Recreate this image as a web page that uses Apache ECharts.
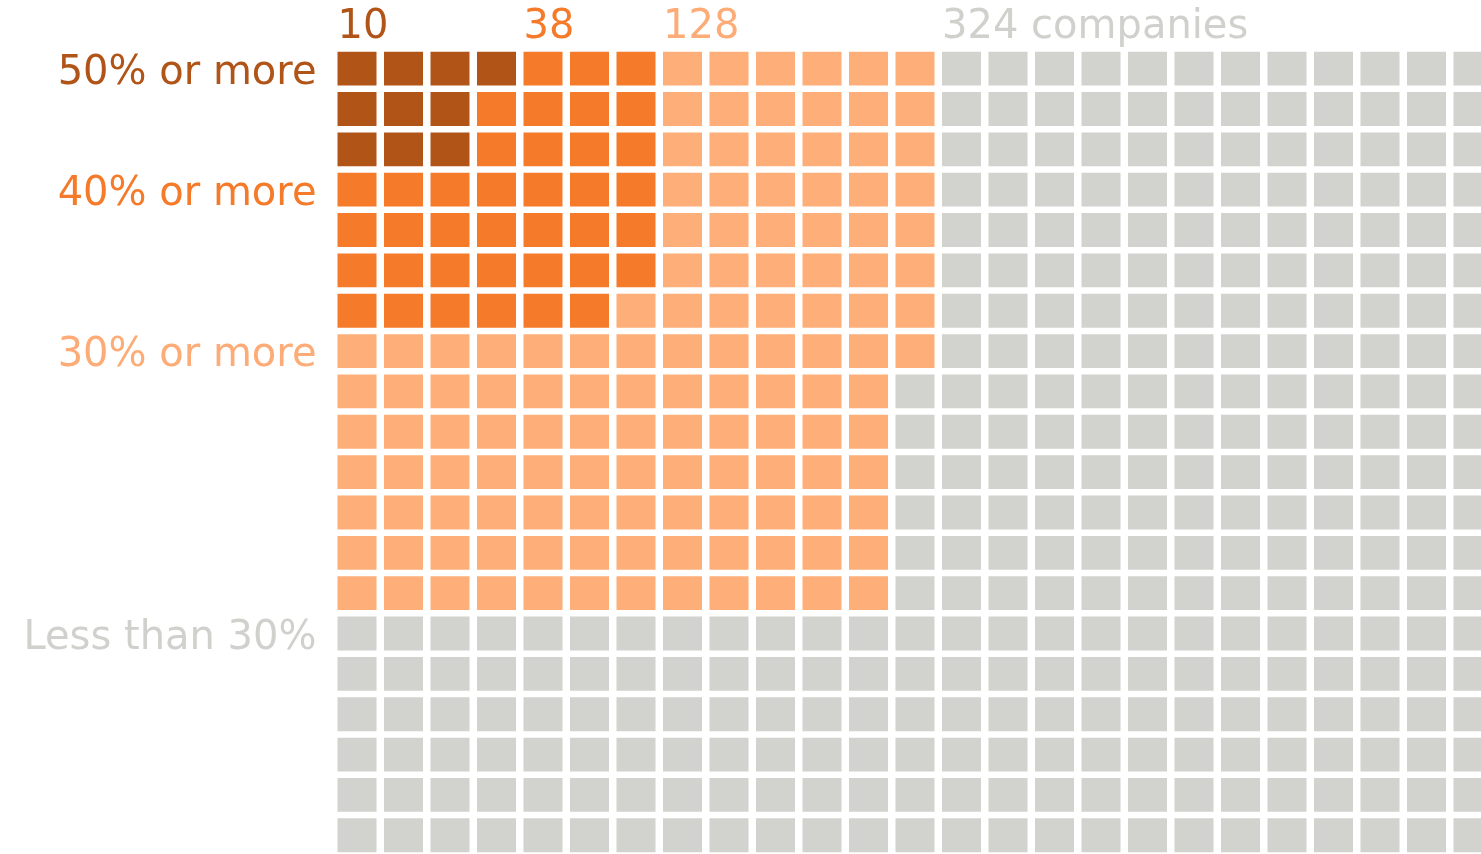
<!DOCTYPE html>
<html>
<head>
<meta charset="utf-8">
<script src="https://cdn.jsdelivr.net/npm/echarts@6/dist/echarts.min.js"></script>
<style>
  html, body { margin: 0; padding: 0; background: #fff; }
  #main { width: 1481px; height: 854px; }
</style>
</head>
<body>
<div id="main"></div>
<script>
// 公司分组（按占比）
var levels = ['50% or more', '40% or more', '30% or more', 'Less than 30%'];
// 每组公司数（非累计）
var counts = [10, 38, 128, 324];
// 每组嵌套块的列高（按列填充）
var blockHeights = [3, 7, 14, 20];
// 顶部数字
var topLabels = ['10', '38', '128', '324 companies'];
var colors = ['#b15418', '#f57a2a', '#feaf79', '#d2d2ce'];
var textColors = ['#b15418', '#f57a2a', '#fdac77', '#d0d0cc'];

var COLS = 25, ROWS = 20;

// 累计数
var cum = [];
counts.reduce(function (s, v, i) { cum[i] = s + v; return cum[i]; }, 0);

var cells = [];
for (var c = 0; c < COLS; c++) {
  for (var r = 0; r < ROWS; r++) {
    for (var i = 0; i < levels.length; i++) {
      var h = blockHeights[i];
      if (r < h && c * h + r < cum[i]) {
        cells.push([c, r, i]);
        break;
      }
    }
  }
}

// 左侧标签 / 顶部数字的位置
var sideLabels = levels.map(function (name, i) {
  return [0, i == 0 ? 0 : blockHeights[i - 1], name, i];
});
var headLabels = topLabels.map(function (t, i) {
  return [i == 0 ? 0 : Math.ceil(cum[i - 1] / blockHeights[i - 1]), 0, t, i];
});

var font = '"DejaVu Sans", sans-serif';

var chart = echarts.init(document.getElementById('main'), null, { renderer: 'canvas' });
chart.setOption({
  animation: false,
  // 网格超出画布（右侧和底部被裁掉）
  grid: { left: 337.5, top: 51.7, width: 1162.5, height: 807, outerBoundsMode: 'none', containLabel: false },
  xAxis: { type: 'value', min: 0, max: COLS, show: false },
  yAxis: { type: 'value', min: 0, max: ROWS, inverse: true, show: false },
  series: [
    {
      name: 'cells',
      type: 'custom',
      data: cells,
      renderItem: function (params, api) {
        var p0 = api.coord([api.value(0), api.value(1)]);
        var p1 = api.coord([api.value(0) + 1, api.value(1) + 1]);
        return {
          type: 'rect',
          shape: { x: p0[0], y: p0[1], width: p1[0] - p0[0] - 7.5, height: p1[1] - p0[1] - 6.5 },
          style: { fill: colors[api.value(2)] }
        };
      }
    },
    {
      name: 'side',
      type: 'custom',
      data: sideLabels,
      renderItem: function (params, api) {
        var d = sideLabels[params.dataIndex];
        var p0 = api.coord([d[0], d[1]]);
        var p1 = api.coord([d[0] + 1, d[1] + 1]);
        return {
          type: 'text',
          x: p0[0] - 21,
          y: (p0[1] + p1[1] - 6.5) / 2 + 5,
          style: {
            text: d[2],
            fill: textColors[d[3]],
            font: '40px ' + font,
            align: 'right',
            verticalAlign: 'middle'
          }
        };
      }
    },
    {
      name: 'head',
      type: 'custom',
      data: headLabels,
      renderItem: function (params, api) {
        var d = headLabels[params.dataIndex];
        var p0 = api.coord([d[0], d[1]]);
        return {
          type: 'text',
          x: p0[0],
          y: p0[1] - 24,
          style: {
            text: d[2],
            fill: textColors[d[3]],
            font: '40px ' + font,
            align: 'left',
            verticalAlign: 'middle'
          }
        };
      }
    }
  ]
});
</script>
</body>
</html>
